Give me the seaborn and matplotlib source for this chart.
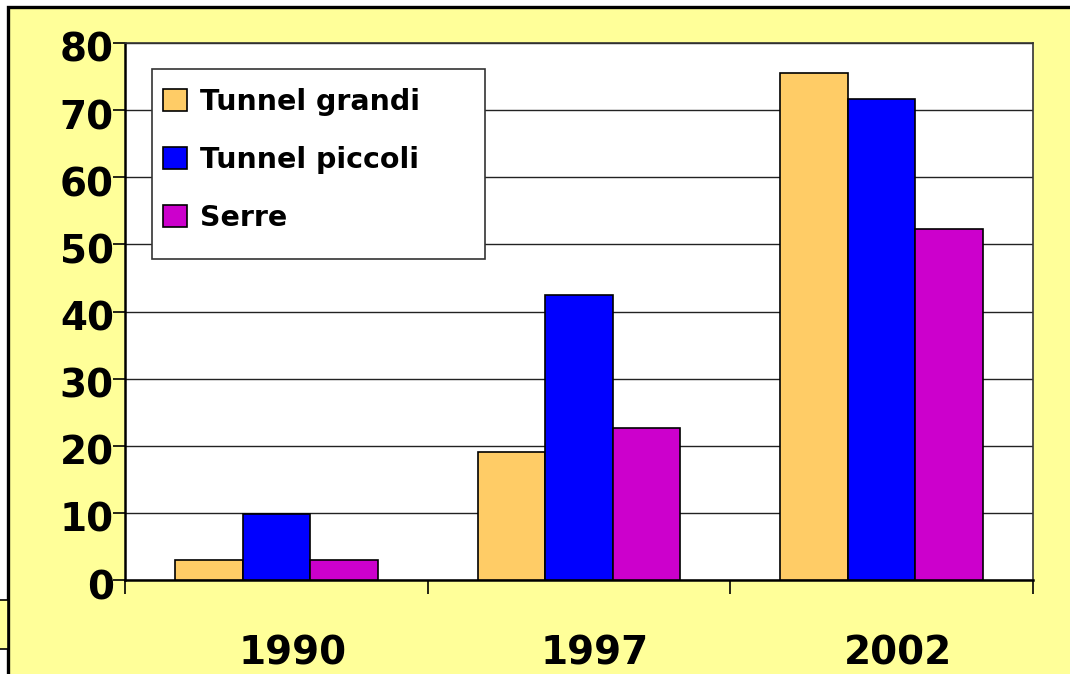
import pandas as pd
import matplotlib.pyplot as plt
import matplotlib.transforms as mtransforms
import seaborn as sns
from matplotlib.patches import Rectangle

# Chart data
years = ['1990', '1997', '2002']
series = ['Tunnel grandi', 'Tunnel piccoli', 'Serre']
tunnel_grandi = [3, 19, 75.5]
tunnel_piccoli = [9.8, 42.4, 71.6]
serre = [3, 22.6, 52.3]
colors = ['#FFCC66', '#0000FF', '#CC00CC']

W, H = 1070, 674
BG = '#FFFF99'

df = pd.DataFrame({
    'anno': years * 3,
    'serie': [series[0]] * 3 + [series[1]] * 3 + [series[2]] * 3,
    'valore': tunnel_grandi + tunnel_piccoli + serre,
})

sns.set_theme(style='white')
plt.rcParams['font.family'] = ['DejaVu Sans']
plt.rcParams['text.color'] = 'black'
plt.rcParams['xtick.color'] = 'black'
plt.rcParams['ytick.color'] = 'black'

fig = plt.figure(figsize=(W / 100, H / 100), dpi=100, facecolor='white')

# outer frame of the slide
fig.patches.append(Rectangle((8 / W, -0.1), 1.2, 1 - 7 / H + 0.1, transform=fig.transFigure,
                             facecolor=BG, edgecolor='black', linewidth=2.4, zorder=-2))
fig.patches.append(Rectangle((-0.01, 1 - 649 / H), 0.01 + 8 / W, 49 / H, transform=fig.transFigure,
                             facecolor=BG, edgecolor='black', linewidth=1.2, zorder=-2))

ax = fig.add_axes([125 / W, 1 - 580 / H, 908 / W, 537 / H])
ax.set_facecolor('white')

sns.barplot(data=df, x='anno', y='valore', hue='serie', hue_order=series,
            palette=colors, width=0.67, gap=0, edgecolor='black', linewidth=1.2,
            saturation=1, ax=ax, zorder=3)

ax.set_ylim(0, 80)
ax.set_xlim(-0.5, 2.5)
ax.set_yticks(range(0, 81, 10))
ax.yaxis.grid(True, color='#222222', linewidth=1.0, zorder=0)
ax.set_axisbelow(True)
ax.set_xlabel('')
ax.set_ylabel('')

for s in ax.spines.values():
    s.set_color('#333333')
    s.set_linewidth(1.2)
ax.spines['left'].set_color('black')
ax.spines['bottom'].set_color('black')
ax.spines['left'].set_linewidth(1.8)
ax.spines['bottom'].set_linewidth(1.8)

ax.tick_params(axis='y', direction='out', length=9, width=1.2, color='black',
               labelsize=28, labelcolor='black', pad=-1, left=True)
ydown = mtransforms.ScaledTranslation(0, -4 / 100, fig.dpi_scale_trans)
for t in ax.get_yticklabels():
    t.set_fontweight('bold')
    t.set_transform(t.get_transform() + ydown)

ax.set_xticks([0, 1, 2])
ax.set_xticklabels(years, fontsize=28, fontweight='bold', color='black')
ax.tick_params(axis='x', which='major', length=0, pad=39)
xshift = mtransforms.ScaledTranslation(16 / 100, 0, fig.dpi_scale_trans)
for t in ax.get_xticklabels():
    t.set_transform(t.get_transform() + xshift)
ax.set_xticks([-0.5, 0.5, 1.5, 2.5], minor=True)
ax.tick_params(axis='x', which='minor', direction='out', length=10, width=1.2,
               color='black', bottom=True)

# legend box (wider than its content, as in the original)
ax.add_patch(Rectangle((27 / 908, 321 / 537), 333 / 908, 190 / 537, transform=ax.transAxes,
                       facecolor='white', edgecolor='#333333', linewidth=1.2, zorder=6))
leg = ax.legend(loc='upper left', bbox_to_anchor=(38 / 908, 1 - 45 / 537),
                frameon=False, prop={'weight': 'bold', 'size': 20.5},
                handlelength=0.85, handleheight=0.85, handletextpad=0.45,
                labelspacing=1.05, borderpad=0, borderaxespad=0)
for txt in leg.get_texts():
    txt.set_color('black')
leg.set_zorder(7)

fig.savefig('out.png', dpi=100, facecolor=fig.get_facecolor())
